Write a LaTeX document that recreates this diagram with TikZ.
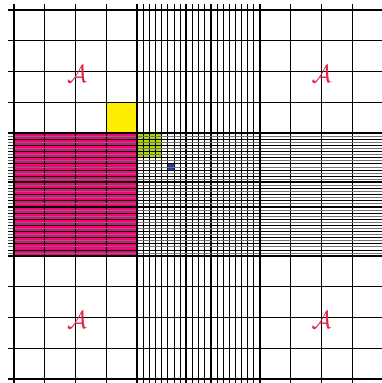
\documentclass[tikz,border=0pt]{standalone}
\usepackage{amsmath}
\definecolor{pinkc}{RGB}{240,5,122}
\definecolor{yellowc}{RGB}{255,238,0}
\definecolor{greenc}{RGB}{176,216,8}
\definecolor{bluec}{RGB}{45,55,185}
\definecolor{redA}{RGB}{228,35,70}
\tikzset{
  thinline/.style={line width=0.8pt,black},
  fineline/.style={line width=0.6pt,black},
  faintline/.style={line width=0.6pt,black!55},
  midline/.style={line width=1.5pt,black},
  thickline/.style={line width=2.6pt,black},
  letterA/.style={text=redA,inner sep=0pt,font=\fontsize{26}{30}\selectfont}
}
\begin{document}
\begin{tikzpicture}[x=1pt,y=-1pt]
\useasboundingbox (0,0) rectangle (382,383);
\clip (0,0) rectangle (382,383);
% fills
\fill[pinkc] (14,133) rectangle (137,256);
\fill[yellowc] (106.3,102.3) rectangle (137,133);
\fill[greenc] (137,133) rectangle (161.6,157.6);
\fill[bluec] (167.7,163.7) rectangle (173.9,169.9);
% vertical lines, corner columns
\foreach \k in {1,2,3} {
  \draw[thinline] ({14+30.75*\k},4) -- ({14+30.75*\k},392);
  \draw[thinline] ({260+30.75*\k},4) -- ({260+30.75*\k},392);
}
% vertical lines, middle column (20 divisions)
\foreach \j in {1,...,19} {
  \pgfmathtruncatemacro{\r}{mod(\j,4)}
  \ifnum\r=0
    \draw[midline] ({137+6.15*\j},4) -- ({137+6.15*\j},392);
  \else
    \draw[thinline] ({137+6.15*\j},4) -- ({137+6.15*\j},392);
  \fi
}
% horizontal lines, corner rows
\foreach \k in {1,2,3} {
  \draw[thinline] (8,{10+30.75*\k}) -- (392,{10+30.75*\k});
  \draw[thinline] (8,{256+30.75*\k}) -- (392,{256+30.75*\k});
}
% horizontal lines, middle row (40 divisions)
\foreach \j in {1,...,39} {
  \pgfmathtruncatemacro{\r}{mod(\j,8)}
  \pgfmathtruncatemacro{\s}{mod(\j,2)}
  \ifnum\r=0
    \draw[midline] (8,{133+3.075*\j}) -- (392,{133+3.075*\j});
  \else
    \ifnum\s=0
      \draw[fineline] (8,{133+3.075*\j}) -- (392,{133+3.075*\j});
    \else
      \draw[faintline] (8,{133+3.075*\j}) -- (392,{133+3.075*\j});
    \fi
  \fi
}
% thick block boundaries
\foreach \x in {14,137,260,383} {
  \draw[thickline] (\x,4) -- (\x,392);
}
\foreach \y in {10,133,256,379} {
  \draw[thickline] (8,\y) -- (392,\y);
}
% letters
\node[letterA] (a1) at (77,74) {$\mathcal{A}$};
\node[letterA] (a2) at (321.5,74) {$\mathcal{A}$};
\node[letterA] (a3) at (77,319.5) {$\mathcal{A}$};
\node[letterA] (a4) at (321.5,320) {$\mathcal{A}$};
\end{tikzpicture}
\end{document}
